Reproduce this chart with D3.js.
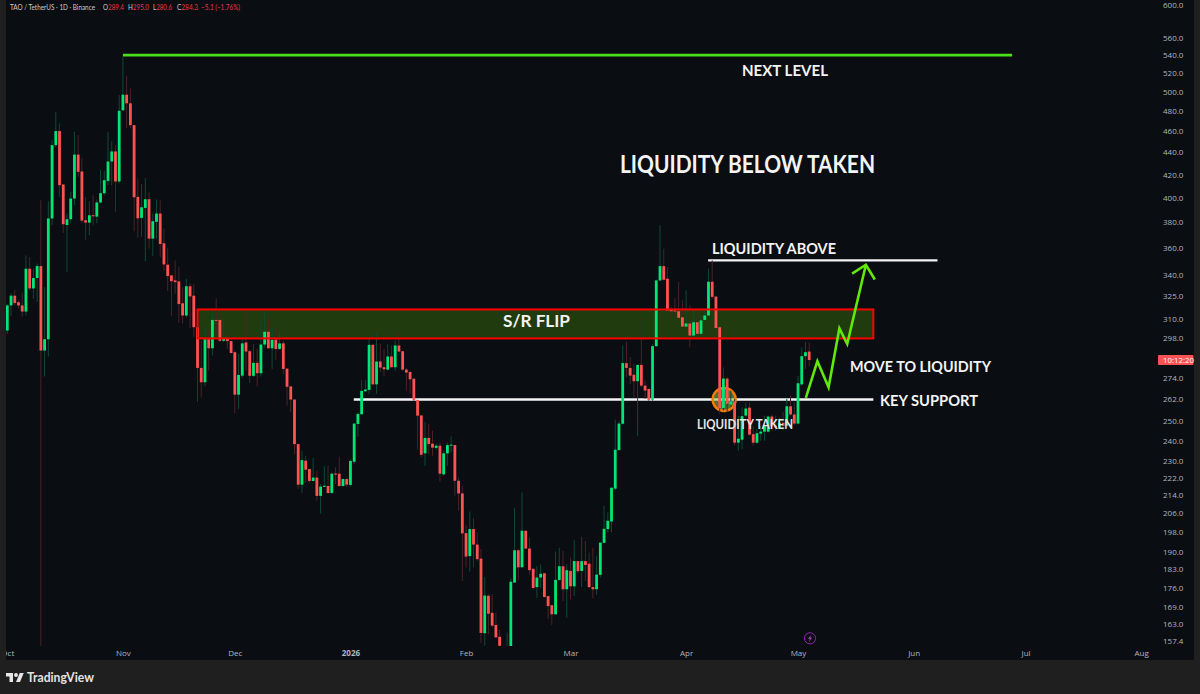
<!DOCTYPE html>
<html><head><meta charset="utf-8">
<style>html,body{margin:0;padding:0;background:#1f1f1f}svg{display:block}
text{font-family:Lato,"Open Sans","Noto Sans",sans-serif}</style>
<script src="https://cdn.jsdelivr.net/npm/d3@7/dist/d3.min.js"></script></head>
<body><svg id="c" width="1200" height="694"></svg>
<script>
const opens=[302.5,318.9,325.5,321,318.9,314.8,344.5,330.5,337.8,346.4,
290,297,382.9,446.8,460.2,411.3,377.7,382.3,399.3,438,
422.7,381.5,379.6,385.5,384.4,396,403.8,414.4,431.7,440.9,
413.9,480.7,496.8,487.9,466,400.7,383.4,391.5,398.7,367,
380.2,386.9,363.4,347.4,339.7,336.1,335.4,320.3,312.2,332,
325.5,304.6,279.6,271.3,297,291.4,309.3,309.3,296,297.8,
295.8,289,264.3,275.1,295,289.6,275,282.6,276.5,293.7,
301.7,291.4,296.8,291,294.4,279.2,268.9,261.6,238.2,218.7,
230,226,220.4,222,213.6,217.7,218.1,214.9,223.9,223.8,
218.1,221.3,218.6,229.5,248.5,253.6,266.2,267,293.5,270.1,
283.4,280,278.6,286.4,280,293.1,289.6,278.6,277.2,273.3,
261.4,253,233.6,241.3,238.4,236.3,237.4,223.5,233.6,237.4,
237.7,220.5,214.7,197.5,188.2,199.2,192.8,187.2,160,173.1,
167,162.8,158.8,154,140,150,178,190.5,183.8,198.5,
191.2,183.2,176.3,179.9,181.5,173,169.7,166.5,179,184.2,
175.5,182.4,176.6,186.2,182.4,186.2,185.2,176.3,175.5,180.9,
193.5,199.2,202.4,216.9,235.2,248.6,282.4,279.6,275.6,271.9,
281.4,269.4,267.5,261.4,292.7,336.1,346.4,337.3,316,315.5,
315,311,305,307,299.3,307.8,300.4,309.3,312.2,335.2,
324.9,304.6,257,273.4,258.8,260.6,238.9,240.4,252.9,257.2,
243.2,238.9,243.5,244.5,244.5,252.4,247.6,246.7,249.1,247.6,
257.9,253.5,248.7,270.1,286.6,289.4];
const highs=[320,327.3,329.6,322.3,327.6,354.3,353,344.5,348.3,397.9,
331.4,397,451.6,479.3,467.8,411.3,386.9,405,459.5,456.4,
434.4,400.7,397,402,398.5,423.9,423.3,459.5,450.6,446.8,
496.4,538,516.8,503.4,466,416.5,411.6,417,404.4,386.9,
398.5,397.9,374.9,360,339.7,350.6,346,331.4,337.3,334.2,
333.4,304.6,296.2,305,302.5,313.3,323.4,312.2,310.7,301,
296.2,290,288.1,297.2,316.6,290.4,294,291,307.4,314.3,
311,304.6,305.7,301.4,296.2,279.2,269.4,261.6,238.2,234.9,
232.4,226,231.3,225.2,219,227.3,227.6,224.4,226.8,232,
221.8,221.8,230.8,248.7,254.7,272.7,272.7,297.2,294,300.4,
294,291,294,293.1,296.2,302,289.6,279.6,278,273.8,
261.4,253,249.4,248.6,245,238.5,239,234.9,238.9,242.1,
237.9,222,218.2,200.8,206.7,203.8,197.8,191,180.1,173.7,
173.7,167.1,161.3,155,160.2,179.6,208.4,191,215.2,198.5,
195.7,183.7,184.4,185,181.7,173,169.7,190,191.5,190.3,
185,187.6,194.7,186.4,196,194.3,189.6,191.5,188.3,193.6,
209.2,206.3,217.4,250.8,249.9,293.1,295.2,286.1,282,281.4,
309.9,272.3,267.5,294,336.6,377.5,359.4,345.7,317.8,324.1,
334.9,322.3,329.1,318.9,315.5,313.4,312.2,315.5,344.5,350.6,
324.9,305,279.8,274.2,266.6,262,252.9,257.4,260,260,
247.6,245.9,247.6,252.9,252.9,253.5,252.9,252,254.7,262,
263.8,260,275.1,292,295.2,295];
const lows=[300.4,311.8,318.9,316.7,311.5,312.2,329.1,323.4,321.2,150,
274.6,286.4,377.5,444.9,400.7,371.4,342,379,393.7,418,
379,366.2,369.6,377.5,379,395,402,410.7,410.7,388.2,
412.2,480.3,462.9,462.9,372.7,367.5,368.3,349.9,359.4,354,
367,353,342.8,328.6,311.8,326.8,307.4,306.9,311,304.1,
298.3,260.4,262.8,269,278,287,301.4,295.2,295.2,291,
288.1,254,256.5,273.8,278,270.8,274.2,269,274.6,291.6,
291,279,284.4,290.4,276,258.2,254.7,233.3,216.7,214.9,
219.7,219.7,220.2,211.4,205.8,217.6,214.5,214.5,219,217.6,
217.6,217.6,217.9,228.4,241.9,253.5,265.7,264.7,269.4,264.7,
277,274.6,278,279.6,278,289,278,266.6,264.7,261,
235.5,231.6,227.6,233.3,232.4,235.4,220,222.8,227.6,234.1,
213.7,207,178.6,183.7,182.2,183.7,186.3,156.8,155.8,159.6,
162.1,158.5,155.2,143,138,147,177.9,179,183.7,191,
181,175.5,172.4,176,172.4,164.8,162.8,166.3,178.6,171.2,
165.3,171.8,173,181.7,176.3,178.6,176,172.2,173.5,179.9,
193.2,197.8,197.8,216.2,234.9,248.2,274.2,270.4,262.8,242.4,
268.4,262,261,261,292,335.6,336.1,315,308.9,311,
308.9,304.6,304.6,292,298.7,299.3,299.9,308.9,311.8,323.4,
303.5,254,255.6,254.7,257.4,237.4,234.9,235.7,252,242.4,
237.4,238.2,239.9,239.9,244.1,245,245,245.9,245,246.7,
252.9,248,248.2,269.4,279,280.6];
const closes=[318.9,325.5,320.5,318.9,314.8,344.5,330.5,337.8,346.4,290,
297,382.9,446.8,460.2,410.7,378.3,382.3,399.3,438,422.4,
381.2,379.6,385.5,384.7,396,403.8,415,431.7,440.9,413.9,
480.3,496.8,487.9,466,400.4,383,392,398.7,367,380.7,
386.9,362.9,347.6,339.2,335.6,334.9,319.8,312.2,332,325,
304.6,279.6,271.3,297,291.4,309.3,308.9,296,297.8,295.8,
288.5,264.3,275.5,294.4,289.4,275,282.6,276.5,293.7,301.7,
291.4,296.6,291,294.4,279,268.7,261.6,238.2,218.7,230.3,
225.7,220.4,222,213.6,217.8,218.2,214.9,223.8,223.4,218.1,
221.3,218.7,229.9,248.7,253.8,266.4,267.2,293.5,270.1,283.4,
279.8,278.8,286.4,280,293.1,289.4,278.6,276.9,273,261.4,
252.9,232.9,241.3,238.2,236.4,237.4,223.8,233.6,237.7,237.9,
220.5,214.7,197.4,188,199.2,192.8,187,160.1,173.2,166.7,
162.6,158.6,155.8,146,150,178.3,190.5,183.8,198.5,191.2,
182.7,176,179.9,181.3,172.7,169.4,166.5,179,184.2,175.5,
182.7,176.6,186.2,182.3,186.2,184.7,176.3,175.5,181,193.6,
199.3,202.7,217.3,235.4,248.7,282.4,279.6,275.1,271.9,281.4,
269.4,266.6,261.4,292.7,336.1,346.4,336.6,315.5,315,315,
310.7,305,307,299.3,307.8,300.4,309,312.2,335.2,324.7,
304.1,256.8,273.4,259.3,260.6,238.9,240.9,252.6,256.7,243,
238.9,243.7,244.5,247.3,252.4,247.3,246.7,249.1,247.6,257.9,
253.5,248.7,270.7,286.6,289,284.3];

const priceTicks=[600,560,540,520,500,480,460,440,420,400,380,360,340,325,310,298,274,262,250,240,230,222,214,206,198,190,183,176,169,163,157.4];
const monthDays=[0,31,61,92,123,151,182,212,243,273,304];
const monthLabels=["Oct","Nov","Dec","2026","Feb","Mar","Apr","May","Jun","Jul","Aug"];
const nextLevel={price:540,from:31,to:269.4};
const zone={top:316.2,bottom:297.5,from:51,to:232.2};
const keySupport={price:261.6,from:92.9,to:232.2};
const liquidityAbove={price:350.6,from:187.9,to:249.4};
const pathDays=[214.1,217.2,220.2,223.1,225.2,230.2];
const pathPrices=[262.5,283.6,268.5,303.9,294,347.4];
const headDays=[226.5,230.2,232.6];
const headPrices=[340.9,347.4,336.8];
const sweep={day:192.2,price:261.6};
const labelTexts=["NEXT LEVEL","LIQUIDITY BELOW TAKEN","LIQUIDITY ABOVE","S/R FLIP","MOVE TO LIQUIDITY","KEY SUPPORT","LIQUIDITY TAKEN"];
const headerName="TAO / TetherUS · 1D · Binance";
const headerKeys=["O","H","L","C"];
const headerVals=["289.4","295.0","280.6","284.3"];
const headerChange="−5.1 (−1.76%)";

const svg=d3.select("#c");
const W=1200,H=694,panelL=6,panelR=1194,panelB=660,plotB=646;
const x=d3.scaleLinear().domain([0,212]).range([7.3,798]);
const y=d3.scaleLog().domain([600,157.4]).range([5,641]);

svg.append("rect").attr("width",W).attr("height",H).attr("fill","#1f1f1f");
svg.append("rect").attr("x",panelL).attr("y",0).attr("width",panelR-panelL).attr("height",panelB).attr("fill","#0a0d12");
const defs=svg.append("defs");
defs.append("clipPath").attr("id","plot").append("rect").attr("x",panelL).attr("y",0).attr("width",panelR-panelL).attr("height",plotB);

// drawings beneath the candles
const low=svg.append("g").attr("clip-path","url(#plot)");
low.append("rect").attr("x",x(zone.from)).attr("y",y(zone.top)).attr("width",x(zone.to)-x(zone.from)).attr("height",y(zone.bottom)-y(zone.top)).attr("fill","#203c0e");
const hline=(g,l,col,w)=>g.append("line").attr("x1",x(l.from)).attr("x2",x(l.to)).attr("y1",y(l.price)).attr("y2",y(l.price)).attr("stroke",col).attr("stroke-width",w);
hline(low,keySupport,"#f4f4f4",2.4);
hline(low,liquidityAbove,"#f4f4f4",2.4);
hline(low,nextLevel,"#4be01a",2.6);
low.append("circle").attr("cx",x(sweep.day)).attr("cy",y(sweep.price)).attr("r",11.5).attr("fill","rgba(139,195,74,0.55)").attr("stroke","#f57c00").attr("stroke-width",2.4);

// candles
const idx=d3.range(opens.length);
const candles=svg.append("g").attr("clip-path","url(#plot)");
const up=i=>closes[i]>=opens[i];
candles.selectAll("line.w").data(idx).join("line").attr("class","w")
 .attr("x1",x).attr("x2",x).attr("y1",i=>y(highs[i])).attr("y2",i=>y(lows[i]))
 .attr("stroke",i=>up(i)?"#0c4a35":"#4d2227").attr("stroke-width",1);
candles.selectAll("rect.b").data(idx).join("rect").attr("class","b")
 .attr("x",i=>x(i)-1.4).attr("width",2.8)
 .attr("y",i=>y(Math.max(opens[i],closes[i])))
 .attr("height",i=>Math.max(1,Math.abs(y(opens[i])-y(closes[i]))))
 .attr("fill",i=>up(i)?"#00e676":"#ff5252");

// drawings above the candles
svg.append("rect").attr("x",x(zone.from)).attr("y",y(zone.top)).attr("width",x(zone.to)-x(zone.from)).attr("height",y(zone.bottom)-y(zone.top)).attr("fill","none").attr("stroke","#ff0000").attr("stroke-width",2);
const ln=d3.line().x(d=>x(d[0])).y(d=>y(d[1]));
const arrow=svg.append("g").attr("fill","none").attr("stroke","#62e80a").attr("stroke-width",2.6).attr("stroke-linejoin","miter");
arrow.append("path").attr("d",ln(pathDays.map((d,i)=>[d,pathPrices[i]])));
arrow.append("path").attr("d",ln(headDays.map((d,i)=>[d,headPrices[i]])));

// annotations: left, centre y, width, size
const labelLayout=[[742,70,86,16],[620,165,255,24],[712,248,124,16],[503,321,67,17],[850,366,141,16],[880,400,98,16],[697,425,96,12.5]];
svg.append("g").selectAll("text").data(labelTexts).join("text")
 .attr("x",(d,i)=>labelLayout[i][0]).attr("y",(d,i)=>labelLayout[i][1]).attr("dy","0.35em")
 .attr("font-size",(d,i)=>labelLayout[i][3]).attr("textLength",(d,i)=>labelLayout[i][2]).attr("lengthAdjust","spacingAndGlyphs")
 .attr("fill",(d,i)=>i===6?"#e6e6e6":"#f3f3f3").attr("font-weight",700).text(d=>d);

// axes
const yAxis=d3.axisRight(y).tickValues(priceTicks).tickSize(0).tickPadding(0).tickFormat(d3.format(".1f"));
const yG=svg.append("g").attr("transform","translate(1163,0)").call(yAxis);
yG.select(".domain").remove();
yG.selectAll("text").attr("font-size",8).attr("fill","#b2b5be").style("font-family","'Open Sans',sans-serif");

const xAxis=d3.axisBottom(x).tickValues(monthDays).tickSize(0).tickPadding(0).tickFormat((d,i)=>monthLabels[i]);
defs.append("clipPath").attr("id","panelX").append("rect").attr("x",panelL).attr("y",-10).attr("width",panelR-panelL).attr("height",30);
const xG=svg.append("g").attr("transform","translate(0,650.5)").attr("clip-path","url(#panelX)").call(xAxis);
xG.select(".domain").remove();
xG.selectAll("text").attr("font-size",8).attr("fill","#b2b5be").style("font-family","'Open Sans',sans-serif")
 .attr("font-weight",(d,i)=>monthLabels[i]==="2026"?700:400);

// countdown tag
svg.append("rect").attr("x",1158).attr("y",355).attr("width",35.5).attr("height",10).attr("rx",1).attr("fill","#ff5252");
svg.append("text").attr("x",1163).attr("y",360).attr("dy","0.35em").attr("font-size",7.8).attr("fill","#fff").style("font-family","'Open Sans',sans-serif").text("10:12:20");

// header
const hdrG=svg.append("g").attr("font-size",7.6);
const hdrText=(left,w)=>hdrG.append("text").attr("x",left).attr("y",7).attr("dy","0.35em").attr("textLength",w).attr("lengthAdjust","spacingAndGlyphs");
hdrText(10,85).attr("fill","#c9ccd4").text(headerName);
const hdrLeft=[103,128,153,177], hdrWidth=[21,21,19,21];
headerKeys.forEach((k,i)=>{
 const t=hdrText(hdrLeft[i],hdrWidth[i]);
 t.append("tspan").attr("fill","#c9ccd4").text(k);
 t.append("tspan").attr("fill","#f23645").text(headerVals[i]);
});
hdrText(201,39).attr("fill","#f23645").text(headerChange);

// lightning badge
const bolt=svg.append("g").attr("transform","translate(810,638.3)");
bolt.append("circle").attr("r",5.6).attr("fill","none").attr("stroke","#8e24aa").attr("stroke-width",1);
bolt.append("path").attr("d","M1,-3.4 L-2,0.5 L-0.2,0.5 L-1,3.4 L2,-0.6 L0.2,-0.6 Z").attr("fill","#ab47bc");

// footer
svg.append("g").attr("transform","translate(6,671) scale(0.5)").append("path")
 .attr("d","M14 22H7V11H0V4h14v18zM28 22h-8l7.5-18h8L28 22zM24 8a4 4 0 1 1-8 0 4 4 0 0 1 8 0z").attr("fill","#e6e6e6");
svg.append("text").attr("x",27).attr("y",677).attr("dy","0.35em").attr("font-size",13).attr("font-weight",700)
 .attr("textLength",67).attr("lengthAdjust","spacingAndGlyphs").attr("fill","#e3e3e3").text("TradingView");
</script></body></html>
